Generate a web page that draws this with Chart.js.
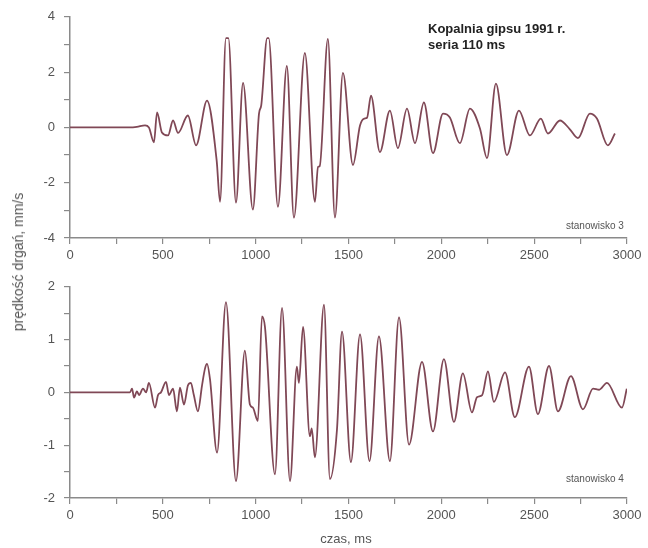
<!DOCTYPE html>
<html>
<head>
<meta charset="utf-8">
<script src="https://cdn.jsdelivr.net/npm/chart.js@4.4.1/dist/chart.umd.min.js"></script>
<style>
  html, body { margin: 0; padding: 0; background: #fff; }
  #wrap { position: relative; width: 648px; height: 548px; font-family: "Liberation Sans", Arial, sans-serif; }
  canvas { position: absolute; left: 0; }
  .txt { position: absolute; white-space: nowrap; color: #444; }
</style>
</head>
<body>
<div id="wrap">
  <canvas id="topChart" width="648" height="270" style="top:0"></canvas>
  <canvas id="bottomChart" width="648" height="278" style="top:270px"></canvas>
  <div class="txt" style="left:428px;top:21px;font-size:13px;font-weight:bold;color:#222;line-height:16px">Kopalnia gipsu 1991 r.<br>seria 110 ms</div>
  <div class="txt" style="left:566px;top:220px;font-size:10px;color:#555">stanowisko 3</div>
  <div class="txt" style="left:566px;top:473px;font-size:10px;color:#555">stanowisko 4</div>
  <div class="txt" style="left:346px;top:531px;font-size:13px;transform:translateX(-50%);color:#555">czas, ms</div>
  <div class="txt" style="left:18px;top:262px;font-size:14px;transform:translate(-50%,-50%) rotate(-90deg);color:#555">prędkość drgań, mm/s</div>
</div>
<script>
// stanowisko 3 (top trace)
const time3 = [0, 323, 360, 404, 425, 452, 469, 495, 528, 555, 582, 635, 679, 738, 790, 808, 840, 853, 894, 932, 985, 1018, 1030, 1062, 1070, 1120, 1168, 1206, 1265, 1319, 1336, 1345, 1389, 1427, 1470, 1524, 1562, 1585, 1600, 1621, 1669, 1723, 1766, 1815, 1858, 1906, 1955, 2009, 2046, 2100, 2154, 2208, 2246, 2294, 2353, 2418, 2477, 2536, 2574, 2639, 2690, 2736, 2800, 2838, 2897, 2935];
const vel3 = [0, 0, 0.02, 0.07, 0.0, -0.54, 0.54, -0.18, -0.29, 0.25, -0.2, 0.43, -0.65, 0.97, -1.2, -2.69, 3.23, 3.23, -2.72, 1.61, -2.97, 0.5, 0.8, 3.23, 3.23, -2.87, 2.22, -3.26, 2.69, -2.69, -1.43, -1.4, 3.2, -3.26, 1.97, -1.36, 0.07, 0.32, 0.35, 1.15, -0.89, 0.61, -0.75, 0.68, -0.57, 0.9, -0.93, 0.5, 0.36, -0.57, 0.68, -0.04, -1.11, 1.58, -1.0, 0.61, -0.29, 0.32, -0.22, 0.25, -0.05, -0.39, 0.5, 0.32, -0.65, -0.22];

// stanowisko 4 (bottom trace)
const time4 = [0, 323, 334, 345, 360, 372, 393, 410, 425, 458, 474, 490, 517, 533, 555, 576, 592, 614, 635, 651, 667, 689, 711, 727, 738, 754, 792, 840, 894, 942, 969, 985, 1012, 1034, 1050, 1104, 1142, 1185, 1222, 1233, 1255, 1292, 1302, 1319, 1368, 1400, 1438, 1465, 1513, 1562, 1613, 1664, 1723, 1772, 1826, 1896, 1955, 2014, 2068, 2116, 2165, 2192, 2220, 2251, 2283, 2343, 2396, 2472, 2520, 2580, 2628, 2698, 2763, 2817, 2850, 2892, 2973, 2999];
const vel4 = [0, 0, 0.07, -0.1, 0.02, -0.05, 0.07, 0, 0.18, -0.29, -0.05, 0, 0.2, -0.05, 0.07, -0.36, 0.09, -0.23, 0.13, 0.18, -0.05, -0.36, 0.13, 0.45, 0.54, 0.25, -1.14, 1.71, -1.68, 0.79, -0.23, -0.29, -0.54, 1.44, 1.24, -1.55, 1.6, -1.68, 0.49, 0.18, 1.24, -0.83, -0.68, -1.23, 1.66, -1.64, -0.7, 1.15, -1.32, 1.1, -1.3, 1.06, -1.3, 1.42, -0.99, 0.58, -0.74, 0.63, -0.56, 0.36, -0.38, -0.09, -0.05, 0.4, -0.18, 0.38, -0.47, 0.49, -0.41, 0.5, -0.36, 0.31, -0.32, 0.07, 0.05, 0.18, -0.29, 0.07];

const xTicks = [0, 500, 1000, 1500, 2000, 2500, 3000];
const lineColor = 'rgb(128, 72, 86)';
const axisColor = '#8a8a8a';
const tickFont = { family: '"Liberation Sans", Arial, sans-serif', size: 13 };

function makeChart(id, times, values, yMin, yMax, yStep, yLabelStep, padTop, xAxisHeight) {
    const points = times.map((t, i) => ({ x: t, y: values[i] }));
    return new Chart(document.getElementById(id), {
        type: 'line',
        data: {
            datasets: [{
                data: points,
                borderColor: lineColor,
                borderWidth: 1.8,
                pointRadius: 0,
                fill: false,
                cubicInterpolationMode: 'monotone'
            }]
        },
        options: {
            responsive: false,
            animation: false,
            layout: { padding: { top: padTop, right: 21, left: 0, bottom: 0 } },
            plugins: { legend: { display: false }, tooltip: { enabled: false } },
            scales: {
                x: {
                    type: 'linear',
                    min: 0,
                    max: 3000,
                    afterFit: s => { s.height = xAxisHeight; },
                    afterBuildTicks: s => {
                        const t = [];
                        for (let v = 0; v <= 3000; v += 250) t.push({ value: v });
                        s.ticks = t;
                    },
                    ticks: {
                        color: '#555',
                        font: tickFont,
                        padding: 4,
                        maxRotation: 0,
                        autoSkip: false,
                        callback: v => xTicks.includes(v) ? v : ''
                    },
                    grid: { drawOnChartArea: false, drawTicks: true, tickLength: 6, color: axisColor, lineWidth: 1.2 },
                    border: { display: true, color: axisColor, width: 1.5 }
                },
                y: {
                    min: yMin,
                    max: yMax,
                    afterFit: s => { s.width = 70; },
                    ticks: {
                        stepSize: yStep,
                        color: '#555',
                        font: tickFont,
                        padding: 9,
                        callback: v => (Math.abs(v % yLabelStep) < 1e-9) ? v : ''
                    },
                    grid: { drawOnChartArea: false, drawTicks: true, tickLength: 6, color: axisColor, lineWidth: 1.2 },
                    border: { display: true, color: axisColor, width: 1.5 }
                }
            }
        }
    });
}

makeChart('topChart', time3, vel3, -4, 4, 1, 2, 15, 32);
makeChart('bottomChart', time4, vel4, -2, 2, 0.5, 1, 6, 50);
</script>
</body>
</html>
